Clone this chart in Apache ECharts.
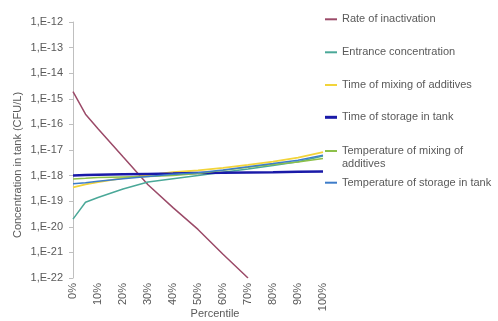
<!DOCTYPE html>
<html>
<head>
<meta charset="utf-8">
<script src="https://cdn.jsdelivr.net/npm/echarts@6/dist/echarts.min.js"></script>
<style>
  html, body { margin: 0; padding: 0; background: #fff; }
  #chart { width: 498px; height: 321px; }
</style>
</head>
<body>
<div id="chart"></div>
<script>
// Percentile positions (%) at which each curve is sampled
const percentile = [0, 5, 10, 20, 30, 40, 50, 60, 70, 80, 90, 100];

// Concentration in tank (CFU/L) per parameter
const rateOfInactivation       = [1.9e-15, 2.5e-16, 6.8e-17, 5.4e-18, 4.4e-19, 5.6e-20, 7.9e-21, 8.5e-22, 1.0e-22, null, null, null];
const entranceConcentration    = [2.0e-20, 9.1e-20, 1.4e-19, 3.0e-19, 5.6e-19, 7.6e-19, 1.0e-18, 1.35e-18, 1.8e-18, 2.5e-18, 3.5e-18, 5.8e-18];
const timeOfMixing             = [3.5e-19, 4.5e-19, 5.6e-19, 7.9e-19, 1.05e-18, 1.35e-18, 1.6e-18, 2.0e-18, 2.6e-18, 3.5e-18, 5.0e-18, 8.3e-18];
const timeOfStorage            = [1.0e-18, 1.05e-18, 1.08e-18, 1.12e-18, 1.16e-18, 1.2e-18, 1.25e-18, 1.3e-18, 1.33e-18, 1.36e-18, 1.4e-18, 1.45e-18];
const temperatureOfMixing      = [7.4e-19, 7.9e-19, 8.5e-19, 8.9e-19, 9.3e-19, 1.0e-18, 1.2e-18, 1.6e-18, 2.1e-18, 2.7e-18, 3.4e-18, 4.7e-18];
const temperatureOfStorage     = [4.8e-19, 5.3e-19, 6.0e-19, 7.6e-19, 9.3e-19, 1.12e-18, 1.3e-18, 1.66e-18, 2.2e-18, 2.95e-18, 4.0e-18, 6.3e-18];

// Decade exponents of the concentration axis (1,E-22 … 1,E-12)
const yMinExp = -22;
const yMaxExp = -12;

const seriesDefs = [
  { name: 'Rate of inactivation',               values: rateOfInactivation,    color: '#9b4a68', width: 1.5, top: 12.8 },
  { name: 'Entrance concentration',             values: entranceConcentration, color: '#4aa898', width: 1.5, top: 45.8 },
  { name: 'Time of mixing of additives',        values: timeOfMixing,          color: '#f2d43a', width: 1.8, top: 78.5 },
  { name: 'Time of storage in tank',            values: timeOfStorage,         color: '#1a1aa8', width: 2.5, top: 110.8 },
  { name: 'Temperature of mixing of additives', values: temperatureOfMixing,   color: '#8dc04a', width: 1.5, top: 131.5 },
  { name: 'Temperature of storage in tank',     values: temperatureOfStorage,  color: '#3d7cc9', width: 1.5, top: 176.2 }
];

const textColor = '#595959';
const fontFamily = '"Liberation Sans", Arial, sans-serif';

// The concentration axis is logarithmic: points are placed by their decade exponent
// on a linear value axis, and the ticks are labelled back as powers of ten.
const pairs = vals => percentile
  .map((p, i) => [p, vals[i] === null ? null : Math.log10(vals[i])])
  .filter(d => d[1] !== null);

const legends = seriesDefs.map(s => ({
  data: [{ name: s.name, itemStyle: { color: s.color } }],
  left: 325,
  top: s.top,
  padding: 0,
  orient: 'vertical',
  icon: 'rect',
  itemWidth: 12,
  itemHeight: s.width >= 2.5 ? 3 : 2,
  textStyle: { color: textColor, fontSize: 11, fontFamily: fontFamily, lineHeight: 13 },
  formatter: name => name === 'Temperature of mixing of additives'
    ? '\nTemperature of mixing of\nadditives'
    : name
}));

const chart = echarts.init(document.getElementById('chart'), null, { renderer: 'canvas' });
chart.setOption({
  animation: false,
  backgroundColor: '#ffffff',
  textStyle: { fontFamily: fontFamily },
  grid: { left: 73, right: 175, top: 22, bottom: 43, containLabel: false },
  legend: legends,
  xAxis: {
    type: 'value',
    min: 0,
    max: 100,
    interval: 10,
    axisLine: { show: false },
    axisTick: { show: false },
    splitLine: { show: false },
    axisLabel: {
      rotate: 90,
      margin: 5,
      color: textColor,
      fontSize: 11,
      fontFamily: fontFamily,
      formatter: '{value}%'
    }
  },
  yAxis: {
    type: 'value',
    min: yMinExp,
    max: yMaxExp,
    interval: 1,
    axisLine: { show: true, lineStyle: { color: '#bfbfbf', width: 1 } },
    axisTick: { show: true, length: 4, lineStyle: { color: '#bfbfbf' } },
    splitLine: { show: false },
    axisLabel: {
      margin: 10,
      color: textColor,
      fontSize: 11,
      fontFamily: fontFamily,
      formatter: v => '1,E' + Math.round(v)
    }
  },
  graphic: [
    {
      type: 'text',
      x: 18, y: 165,
      rotation: Math.PI / 2,
      style: {
        text: 'Concentration in tank (CFU/L)',
        fill: textColor,
        font: '11px ' + fontFamily,
        textAlign: 'center',
        textVerticalAlign: 'middle'
      }
    },
    {
      type: 'text',
      x: 215, y: 314,
      style: {
        text: 'Percentile',
        fill: textColor,
        font: '11px ' + fontFamily,
        textAlign: 'center',
        textVerticalAlign: 'middle'
      }
    }
  ],
  series: seriesDefs.map(s => ({
    name: s.name,
    type: 'line',
    data: pairs(s.values),
    showSymbol: false,
    symbol: 'none',
    color: s.color,
    lineStyle: { color: s.color, width: s.width },
    clip: true
  }))
});
</script>
</body>
</html>
